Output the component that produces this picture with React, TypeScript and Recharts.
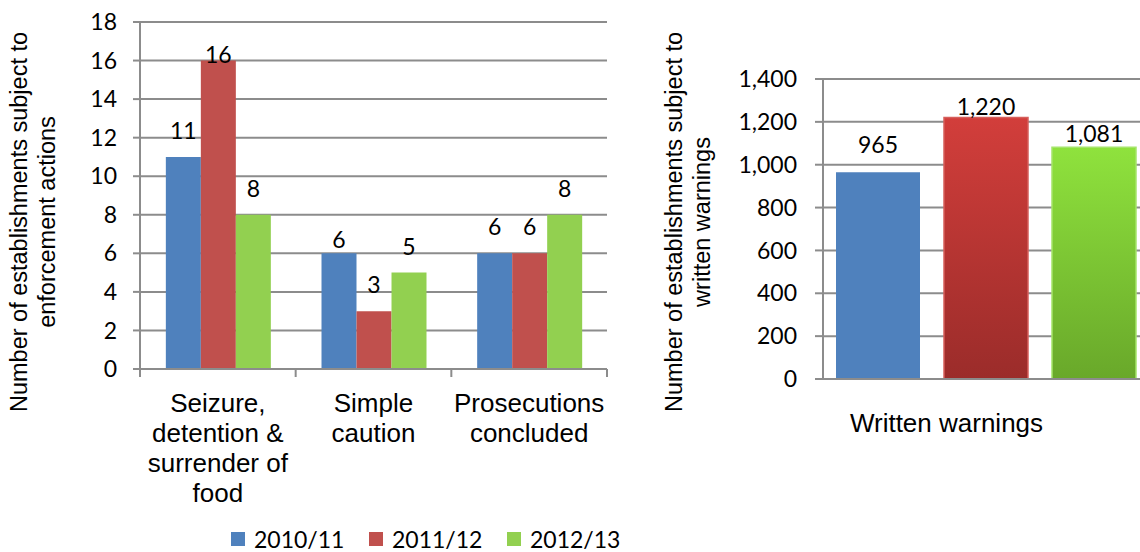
import { BarChart, Bar, XAxis, YAxis, CartesianGrid, LabelList, Legend } from "recharts";

// enforcement actions (left chart)
const categories = ["Seizure,|detention &|surrender of|food", "Simple|caution", "Prosecutions|concluded"];
const actions2010 = [11, 6, 6];
const actions2011 = [16, 3, 6];
const actions2012 = [8, 5, 8];
const actionTicks = [0, 2, 4, 6, 8, 10, 12, 14, 16, 18];

// written warnings (right chart)
const warningCategories = ["Written warnings"];
const warnings2010 = [965];
const warnings2011 = [1220];
const warnings2012 = [1081];
const warningTicks = [0, 200, 400, 600, 800, 1000, 1200, 1400];

const seriesNames = ["2010/11", "2011/12", "2012/13"];

const actionData = categories.map((name, i) => ({
  name,
  a: actions2010[i],
  b: actions2011[i],
  c: actions2012[i],
}));

const warningData = warningCategories.map((name, i) => ({
  name,
  a: warnings2010[i],
  b: warnings2011[i],
  c: warnings2012[i],
}));

const GRID = "#8c8c8c";
const NUM_FONT = "Lato, 'Open Sans', sans-serif";
const TEXT_FONT = "'Liberation Sans', Arial, sans-serif";

// how far each value label sits above its bar (baseline), a few were nudged by hand in the original
const labelLift: Record<string, number> = {
  "L-b-0": -2.5,
  "L-a-1": 5.5,
  "R-a-0": 19,
  "R-b-0": 3,
  "R-c-0": 5,
};

const valueLabel = (chart: string, key: string) => (props: any) => {
  const { x, y, width, value, index } = props;
  const lift = labelLift[`${chart}-${key}-${index}`] ?? 18;
  return (
    <text
      x={Number(x) + Number(width) / 2}
      y={Number(y) - lift}
      textAnchor="middle"
      fontFamily={NUM_FONT}
      fontSize={23}
      fill="#000"
    >
      {Number(value).toLocaleString("en-US")}
    </text>
  );
};

// two-line rotated axis title, fixed place in the chart's svg
const axisTitle = (lines: string[], baseX: number, midY: number) => () => (
  <g>
    {lines.map((l, i) => (
      <text
        key={i}
        x={baseX + i * 28}
        y={midY}
        transform={`rotate(-90, ${baseX + i * 28}, ${midY})`}
        textAnchor="middle"
        fontFamily={TEXT_FONT}
        fontSize={23.5}
        fill="#000"
      >
        {l}
      </text>
    ))}
  </g>
);

const LEFT_W = 620;
const LEFT_AXIS_W = 140;
const LEFT_RIGHT = 13;
const LEFT_BAND = (LEFT_W - LEFT_AXIS_W - LEFT_RIGHT) / categories.length;

const CategoryTick = (props: any) => {
  const { x, y, payload, index } = props;
  const lines = String(payload.value).split("|");
  const half = LEFT_BAND / 2;
  return (
    <g>
      <line x1={x - half} x2={x - half} y1={y} y2={y + 8} stroke={GRID} strokeWidth={2} />
      {index === categories.length - 1 && (
        <line x1={x + half} x2={x + half} y1={y} y2={y + 8} stroke={GRID} strokeWidth={2} />
      )}
      <text x={x} y={y + 43} textAnchor="middle" fontFamily={TEXT_FONT} fontSize={26} fill="#000">
        {lines.map((l, i) => (
          <tspan key={i} x={x} dy={i === 0 ? 0 : 30}>
            {l}
          </tspan>
        ))}
      </text>
    </g>
  );
};

const WarningTick = (props: any) => {
  const { x, y, payload } = props;
  return (
    <text x={x - 39} y={y + 53} textAnchor="middle" fontFamily={TEXT_FONT} fontSize={26} fill="#000">
      {payload.value}
    </text>
  );
};

const renderLegend = (props: any) => (
  <div style={{ display: "flex", fontFamily: NUM_FONT, fontSize: 23, lineHeight: "26px", color: "#000" }}>
    {(props.payload || []).map((p: any, i: number) => (
      <div key={i} style={{ display: "flex", alignItems: "center", width: 138 }}>
        <span style={{ width: 14, height: 14, background: p.color, marginRight: 9, display: "inline-block" }} />
        {p.value}
      </div>
    ))}
  </div>
);

export default function App() {
  return (
    <div
      style={{
        position: "absolute",
        left: 0,
        top: 0,
        width: 1140,
        height: 552,
        overflow: "hidden",
        background: "#fff",
      }}
    >
      <div style={{ position: "absolute", left: 0, top: 0 }}>
        <BarChart
          width={LEFT_W}
          height={552}
          data={actionData}
          margin={{ top: 22, right: LEFT_RIGHT, left: 0, bottom: 0 }}
          barCategoryGap="16.6%"
          barGap={0}
        >
          <CartesianGrid vertical={false} stroke={GRID} strokeWidth={2} />
          <XAxis
            dataKey="name"
            height={183}
            interval={0}
            tickLine={false}
            tickSize={0}
            tickMargin={0}
            axisLine={{ stroke: GRID, strokeWidth: 2 }}
            tick={(p: any) => <CategoryTick {...p} />}
          />
          <YAxis
            width={LEFT_AXIS_W}
            domain={[0, 18]}
            ticks={actionTicks}
            interval={0}
            tickSize={7}
            tickMargin={16}
            axisLine={{ stroke: GRID, strokeWidth: 2 }}
            tickLine={{ stroke: GRID, strokeWidth: 2 }}
            tick={{ fontFamily: NUM_FONT, fontSize: 23, fill: "#000" }}
            label={{
              content: axisTitle(["Number of establishments subject to", "enforcement actions"], 27, 222),
            }}
          />
          <Legend
            layout="horizontal"
            verticalAlign="middle"
            align="center"
            wrapperStyle={{ top: 526, left: 231, width: 420 }}
            content={renderLegend}
          />
          <Bar dataKey="a" name={seriesNames[0]} fill="#4F81BD" isAnimationActive={false}>
            <LabelList dataKey="a" content={valueLabel("L", "a")} />
          </Bar>
          <Bar dataKey="b" name={seriesNames[1]} fill="#C0504D" isAnimationActive={false}>
            <LabelList dataKey="b" content={valueLabel("L", "b")} />
          </Bar>
          <Bar dataKey="c" name={seriesNames[2]} fill="#92D050" isAnimationActive={false}>
            <LabelList dataKey="c" content={valueLabel("L", "c")} />
          </Bar>
        </BarChart>
      </div>

      <div style={{ position: "absolute", left: 650, top: 0 }}>
        <BarChart
          width={510}
          height={552}
          data={warningData}
          margin={{ top: 79, right: 12, left: 0, bottom: 0 }}
          barCategoryGap="4%"
          barGap={24}
        >
          <defs>
            <linearGradient id="redFade" x1="0" y1="0" x2="0" y2="1">
              <stop offset="0%" stopColor="#D23E3B" />
              <stop offset="100%" stopColor="#9B2C2A" />
            </linearGradient>
            <linearGradient id="greenFade" x1="0" y1="0" x2="0" y2="1">
              <stop offset="0%" stopColor="#8FE23D" />
              <stop offset="100%" stopColor="#69A82A" />
            </linearGradient>
          </defs>
          <CartesianGrid vertical={false} stroke={GRID} strokeWidth={2} />
          <XAxis
            dataKey="name"
            height={173}
            interval={0}
            tickLine={false}
            tickSize={0}
            tickMargin={0}
            axisLine={{ stroke: GRID, strokeWidth: 2 }}
            tick={(p: any) => <WarningTick {...p} />}
          />
          <YAxis
            width={173}
            domain={[0, 1400]}
            ticks={warningTicks}
            interval={0}
            tickSize={8}
            tickMargin={18}
            tickFormatter={(v: number) => v.toLocaleString("en-US")}
            axisLine={{ stroke: GRID, strokeWidth: 2 }}
            tickLine={{ stroke: GRID, strokeWidth: 2 }}
            tick={{ fontFamily: NUM_FONT, fontSize: 23, fill: "#000" }}
            label={{
              content: axisTitle(["Number of establishments subject to", "written warnings"], 32, 222),
            }}
          />
          <Bar dataKey="a" name={seriesNames[0]} fill="#4F81BD" isAnimationActive={false}>
            <LabelList dataKey="a" content={valueLabel("R", "a")} />
          </Bar>
          <Bar
            dataKey="b"
            name={seriesNames[1]}
            fill="url(#redFade)"
            stroke="#D65F5B"
            strokeWidth={1.5}
            isAnimationActive={false}
          >
            <LabelList dataKey="b" content={valueLabel("R", "b")} />
          </Bar>
          <Bar
            dataKey="c"
            name={seriesNames[2]}
            fill="url(#greenFade)"
            stroke="#A5E56A"
            strokeWidth={1.5}
            isAnimationActive={false}
          >
            <LabelList dataKey="c" content={valueLabel("R", "c")} />
          </Bar>
        </BarChart>
      </div>
    </div>
  );
}
